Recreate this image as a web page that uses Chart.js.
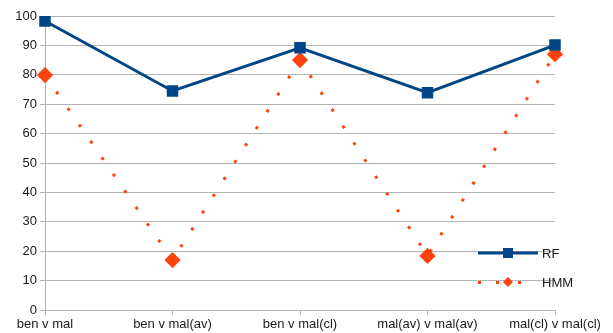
<!DOCTYPE html>
<html>
<head>
<meta charset="utf-8">
<script src="https://cdn.jsdelivr.net/npm/chart.js@4.4.0/dist/chart.umd.min.js"></script>
<style>
  html, body { margin: 0; padding: 0; background: #fff; }
  #wrap { width: 613px; height: 333px; position: relative; }
</style>
</head>
<body>
<div id="wrap"><canvas id="myChart" width="613" height="333"></canvas></div>
<script>
const categories = ['ben v mal', 'ben v mal(av)', 'ben v mal(cl)', 'mal(av) v mal(av)', 'mal(cl) v mal(cl)'];
const rfValues = [98.3, 74.5, 89.2, 73.9, 90.1];
const hmmValues = [79.9, 17.0, 85.0, 18.4, 87.0];
const seriesNames = ['RF', 'HMM'];

const rfColor = '#004586';
const hmmColor = '#ff420e';
const labelFont = { family: 'Liberation Sans', size: 13 };

// legend drawn by hand, LibreOffice style (inside the right of the plot)
const sideLegend = {
  id: 'sideLegend',
  afterDraw(chart) {
    const ctx = chart.ctx;
    ctx.save();
    // RF
    ctx.strokeStyle = rfColor;
    ctx.lineWidth = 3;
    ctx.beginPath();
    ctx.moveTo(478, 253);
    ctx.lineTo(538, 253);
    ctx.stroke();
    ctx.fillStyle = rfColor;
    ctx.fillRect(503, 248, 10, 10);
    // HMM
    ctx.fillStyle = hmmColor;
    [479, 497, 519].forEach(function(x) { ctx.fillRect(x - 1, 281, 3, 3); });
    ctx.beginPath();
    ctx.moveTo(508, 277);
    ctx.lineTo(513, 282);
    ctx.lineTo(508, 287);
    ctx.lineTo(503, 282);
    ctx.closePath();
    ctx.fill();
    // text
    ctx.fillStyle = '#1a1a1a';
    ctx.font = '13px "Liberation Sans"';
    ctx.textBaseline = 'middle';
    ctx.fillText(seriesNames[0], 542, 254);
    ctx.fillText(seriesNames[1], 542, 283);
    ctx.restore();
  }
};

var ctx = document.getElementById('myChart').getContext('2d');
var chart = new Chart(ctx, {
  type: 'line',
  data: {
    labels: categories,
    datasets: [{
      label: seriesNames[0],
      data: rfValues,
      borderColor: rfColor,
      backgroundColor: rfColor,
      borderWidth: 3,
      pointStyle: 'rect',
      pointRadius: 6,
      pointHoverRadius: 6,
      tension: 0
    }, {
      label: seriesNames[1],
      data: hmmValues,
      borderColor: hmmColor,
      backgroundColor: hmmColor,
      borderWidth: 3,
      borderDash: [3, 17],
      borderCapStyle: 'butt',
      pointStyle: 'rectRot',
      pointRadius: 6,
      pointHoverRadius: 6,
      tension: 0
    }]
  },
  options: {
    responsive: false,
    animation: false,
    layout: { padding: { top: 16, right: 58, left: 0, bottom: 0 } },
    plugins: { legend: { display: false }, tooltip: { enabled: false } },
    scales: {
      x: {
        offset: false,
        grid: { drawOnChartArea: false, drawTicks: true, tickLength: 5, color: '#b3b3b3' },
        border: { color: '#b3b3b3' },
        ticks: { font: labelFont, color: '#1a1a1a', maxRotation: 0, autoSkip: false, padding: 2 },
        afterFit: function(axis) { axis.height = 23; }
      },
      y: {
        min: 0,
        max: 100,
        grid: {
          color: function(c) { return c.tick && c.tick.value % 10 === 0 ? '#b3b3b3' : '#dddddd'; },
          tickLength: 5
        },
        border: { color: '#b3b3b3' },
        ticks: {
          stepSize: 5,
          font: labelFont,
          color: '#1a1a1a',
          padding: 3,
          callback: function(v) { return v % 10 === 0 ? v : ''; }
        },
        afterFit: function(axis) { axis.width = 45; }
      }
    }
  },
  plugins: [sideLegend]
});
</script>
</body>
</html>
